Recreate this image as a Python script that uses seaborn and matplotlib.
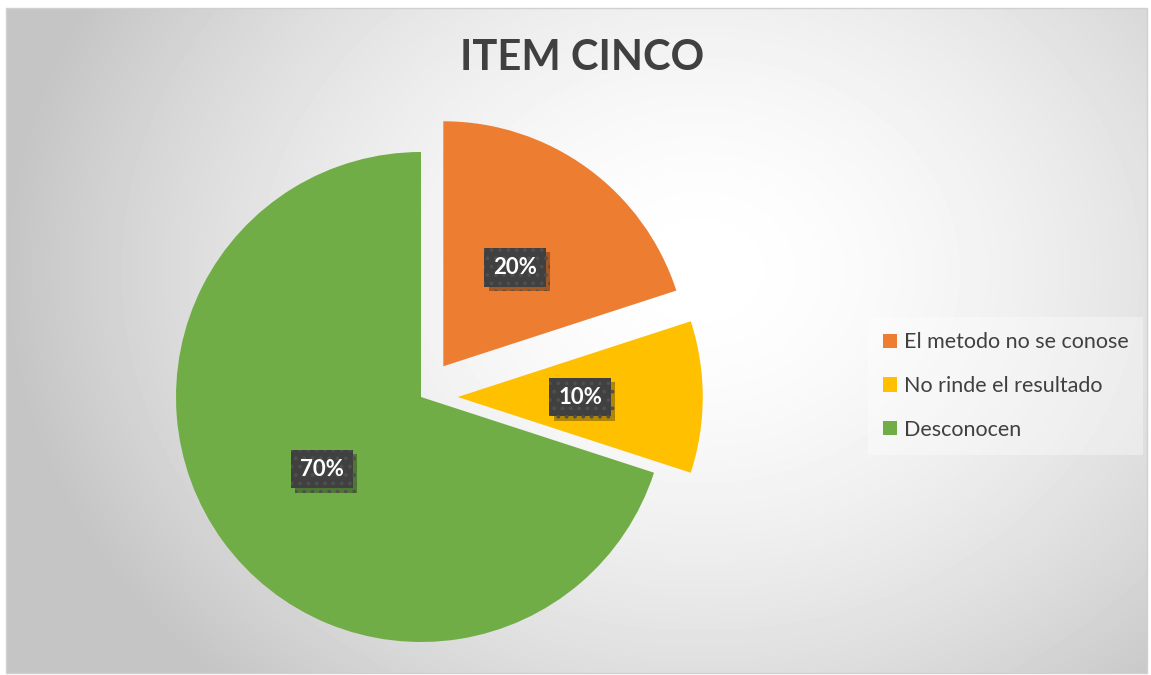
import numpy as np
import matplotlib
matplotlib.use("Agg")
import matplotlib.pyplot as plt
import matplotlib.patheffects as pe
from matplotlib.patches import Rectangle
import seaborn as sns

# ---- data ----
categories = ["El metodo no se conose", "No rinde el resultado", "Desconocen"]
values = [20, 10, 70]
colors = ["#ED7D31", "#FFC000", "#70AD47"]
title = "ITEM CINCO"

sns.set_theme(style="white")
plt.rcParams["font.family"] = ["Lato", "DejaVu Sans"]
plt.rcParams["hatch.linewidth"] = 1.5

W, H = 1151, 675
fig = plt.figure(figsize=(W / 100, H / 100), dpi=100, facecolor="white")

# ---- background (radial gradient) ----
bg = fig.add_axes([0, 0, 1, 1])
bg.set_xlim(0, W)
bg.set_ylim(H, 0)
bg.axis("off")
x0, x1, y0, y1 = 6, 1147, 8, 673
xx, yy = np.meshgrid(np.arange(x0, x1), np.arange(y0, y1))
cx, cy, a, b = 700, 270, 660, 540
r = np.sqrt(((xx - cx) / a) ** 2 + ((yy - cy) / b) ** 2)
v = np.clip(1 - 0.21 * r ** 1.7, 0.77, 1.0)
bg.imshow(v, cmap="gray", vmin=0, vmax=1, extent=(x0, x1, y1, y0),
          aspect="auto", interpolation="bilinear", zorder=0)
bg.add_patch(Rectangle((x0, y0), x1 - x0, y1 - y0, fill=False,
                       ec="#d0d0d0", lw=1.0, zorder=1))

# ---- pie ----
R = 245.0
pcx, pcy = 421.0, 397.0
ax = fig.add_axes([0, 0, 1, 1])
ax.set_facecolor("none")
ax.axis("off")

wedges, texts, autotexts = ax.pie(
    values, colors=colors, startangle=90, counterclock=False,
    explode=[0.155, 0.15, 0.0], autopct="%1.0f%%", pctdistance=0.5,
    radius=1.0, wedgeprops=dict(linewidth=0),
    textprops=dict(color="white", fontsize=16, fontweight="bold"),
)
ax.set_xlim(-pcx / R, (W - pcx) / R)
ax.set_ylim(-(H - pcy) / R, pcy / R)

for t in autotexts:
    t.set_bbox(dict(boxstyle="square,pad=0.4", fc="#404040", ec="#4f4f4f",
                    lw=0, hatch=".."))
    t.get_bbox_patch().set_path_effects([
        pe.SimplePatchShadow(offset=(3, -3), shadow_rgbFace="black", alpha=0.3),
        pe.Normal(),
    ])

# ---- title ----
fig.text(582 / W, 1 - 58 / H, title, ha="center", va="center",
         fontsize=30, fontweight="bold", color="#404040")

# ---- legend ----
leg = fig.legend(
    wedges, categories, loc="center left",
    bbox_to_anchor=(868 / W, 1 - 386 / H), bbox_transform=fig.transFigure,
    frameon=True, fontsize=15.5, labelcolor="#404040",
    handlelength=0.65, handleheight=0.65, handletextpad=0.3,
    labelspacing=1.1, borderpad=0.7, borderaxespad=0,
)
fr = leg.get_frame()
fr.set_facecolor("white")
fr.set_alpha(0.35)
fr.set_edgecolor("none")
fr.set_boxstyle("square", pad=0)

fig.savefig("out.png", dpi=100, facecolor="white")
